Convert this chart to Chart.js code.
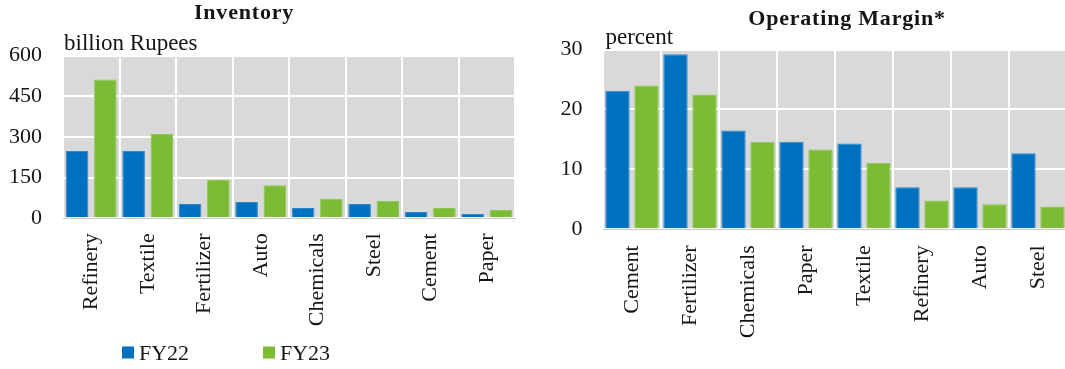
<!DOCTYPE html>
<html>
<head>
<meta charset="utf-8">
<script src="https://cdn.jsdelivr.net/npm/chart.js@4.4.1/dist/chart.umd.min.js"></script>
<style>
  html, body { margin: 0; padding: 0; background: #fff; overflow: hidden; width: 1065px; height: 369px; }
  canvas { position: absolute; top: 0; }
  #inventory { left: 0; }
  #margin { left: 530px; }
</style>
</head>
<body>
<canvas id="inventory" width="530" height="369"></canvas>
<canvas id="margin" width="537" height="369"></canvas>
<script>
// Inventory by sector, billion Rupees
const inventoryCategories = ['Refinery', 'Textile', 'Fertilizer', 'Auto', 'Chemicals', 'Steel', 'Cement', 'Paper'];
const inventoryFY22 = [248, 248, 53, 60, 38, 53, 23, 16];
const inventoryFY23 = [512, 311, 141, 122, 72, 65, 38, 31];
const inventoryTicks = [0, 150, 300, 450, 600];

// Operating margin by sector, percent
const marginCategories = ['Cement', 'Fertilizer', 'Chemicals', 'Paper', 'Textile', 'Refinery', 'Auto', 'Steel'];
const marginFY22 = [23.1, 29.2, 16.5, 14.6, 14.3, 7.0, 7.0, 12.7];
const marginFY23 = [24.0, 22.5, 14.6, 13.3, 11.1, 4.8, 4.2, 3.8];
const marginTicks = [0, 10, 20, 30];

const seriesNames = ['FY22', 'FY23'];
const seriesColors = ['#0070C0', '#7CBB34'];
const seriesEdges = ['#2F88CC', '#8EC652'];

const FONT = '"Liberation Serif", "Times New Roman", serif';
const INK = '#151515';

// Grey plot background, panel title, unit caption and optional legend
const panelDecor = {
  id: 'panelDecor',
  beforeDraw(chart, args, o) {
    const { ctx, chartArea: a } = chart;
    ctx.save();
    ctx.fillStyle = '#D9D9D9';
    ctx.fillRect(a.left, a.top, a.right - a.left, a.bottom - a.top);
    ctx.restore();
  },
  afterDraw(chart, args, o) {
    const { ctx } = chart;
    ctx.save();
    ctx.fillStyle = INK;
    ctx.textBaseline = 'alphabetic';
    // title
    ctx.font = 'bold ' + o.titleSize + 'px ' + FONT;
    if ('letterSpacing' in ctx) ctx.letterSpacing = o.titleSpacing + 'px';
    ctx.textAlign = 'center';
    ctx.fillText(o.title, o.titleX, o.titleY);
    if ('letterSpacing' in ctx) ctx.letterSpacing = '0px';
    // unit caption
    ctx.font = o.unitSize + 'px ' + FONT;
    ctx.textAlign = 'left';
    ctx.fillText(o.unit, o.unitX, o.unitY);
    // legend
    if (o.legend) {
      const L = o.legend;
      chart.data.datasets.forEach((ds, i) => {
        const x = L.x + i * L.step;
        ctx.fillStyle = ds.backgroundColor;
        ctx.fillRect(x, L.y, L.box, L.box);
        ctx.fillStyle = INK;
        ctx.font = L.size + 'px ' + FONT;
        ctx.fillText(ds.label, x + L.box + 5, L.y + L.box + 1.5);
      });
    }
    ctx.restore();
  }
};

function makePanel(id, categories, fy22, fy23, ticks, cfg) {
  return new Chart(document.getElementById(id), {
    type: 'bar',
    data: {
      labels: categories,
      datasets: [fy22, fy23].map((d, i) => ({
        label: seriesNames[i],
        data: d,
        backgroundColor: seriesColors[i],
        borderColor: seriesEdges[i],
        borderWidth: 1,
        categoryPercentage: 1,
        barPercentage: cfg.barPct
      }))
    },
    options: {
      responsive: false,
      animation: false,
      devicePixelRatio: 1,
      layout: { padding: { top: cfg.top, left: 0, right: cfg.right, bottom: 0 } },
      plugins: {
        legend: { display: false },
        title: { display: false },
        tooltip: { enabled: false },
        panelDecor: cfg.decor
      },
      scales: {
        x: {
          grid: { color: '#FFFFFF', lineWidth: 2, drawTicks: false, offset: true },
          border: { color: '#C8C8C8', width: 1 },
          ticks: {
            font: { family: FONT, size: 22 }, color: INK,
            minRotation: 90, maxRotation: 90, autoSkip: false, padding: cfg.xPad
          },
          afterFit(s) {
            s.height = cfg.xHeight;
            s.paddingLeft = 0;
            s.paddingRight = 0;
          }
        },
        y: {
          min: ticks[0],
          max: ticks[ticks.length - 1],
          afterBuildTicks(s) { s.ticks = ticks.map(v => ({ value: v })); },
          grid: { color: '#FFFFFF', lineWidth: 2, drawTicks: false },
          border: { display: false },
          ticks: { font: { family: FONT, size: 22 }, color: INK, padding: cfg.yPad },
          afterFit(s) {
            s.width = cfg.yWidth;
            s.paddingTop = 0;
            s.paddingBottom = 0;
          }
        }
      }
    },
    plugins: [panelDecor]
  });
}

makePanel('inventory', inventoryCategories, inventoryFY22, inventoryFY23, inventoryTicks, {
  top: 55.5, right: 15, yWidth: 63, xHeight: 150.7, xPad: 15, yPad: 21, barPct: 0.8,
  decor: {
    title: 'Inventory', titleX: 244, titleY: 18.5, titleSize: 22, titleSpacing: 0.8,
    unit: 'billion Rupees', unitX: 64, unitY: 50, unitSize: 23,
    legend: { x: 122, y: 346.5, box: 12, step: 141, size: 22 }
  }
});

makePanel('margin', marginCategories, marginFY22, marginFY23, marginTicks, {
  top: 49.5, right: 0, yWidth: 73, xHeight: 139.7, xPad: 16, yPad: 20.5, barPct: 0.84,
  decor: {
    title: 'Operating Margin*', titleX: 317, titleY: 24.5, titleSize: 22, titleSpacing: 0.8,
    unit: 'percent', unitX: 75.5, unitY: 44, unitSize: 23
  }
});
</script>
</body>
</html>
